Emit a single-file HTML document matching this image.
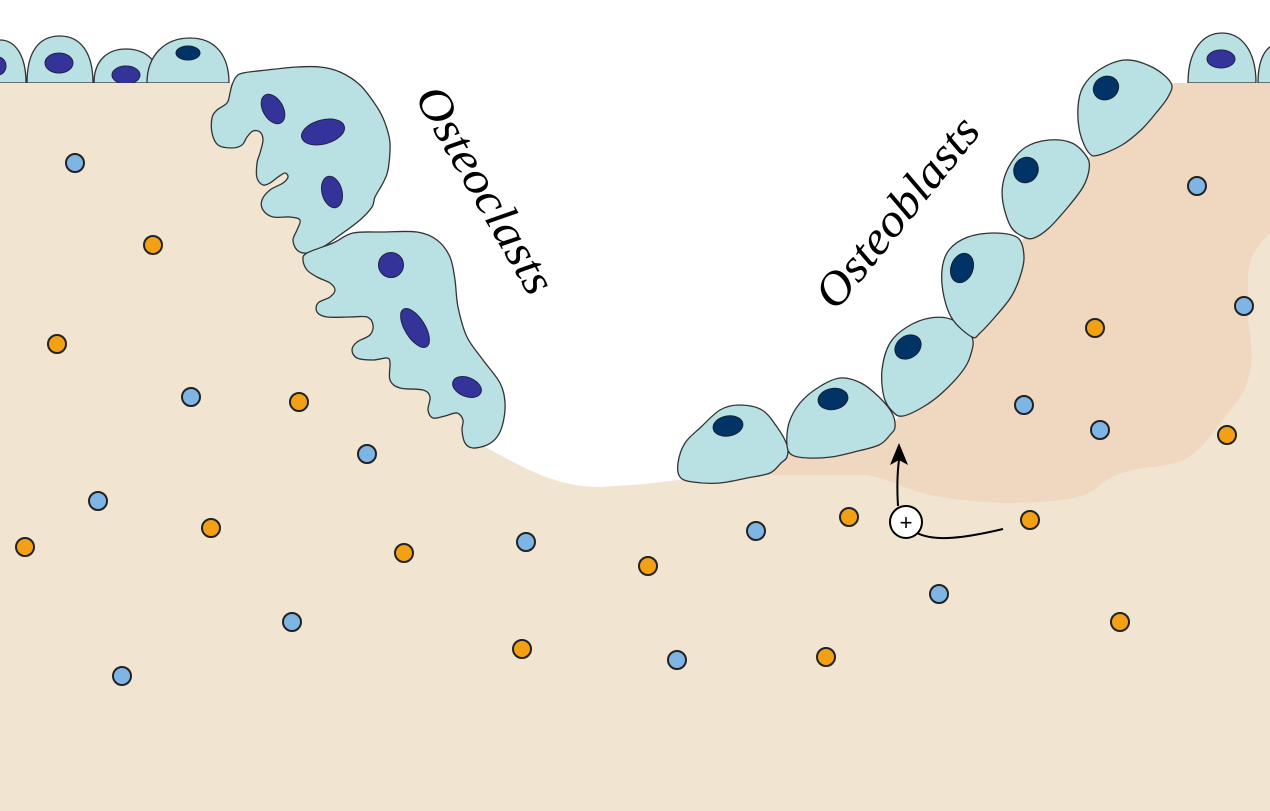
<!DOCTYPE html>
<html>
<head>
<meta charset="utf-8">
<style>
  html, body { margin: 0; padding: 0; background: #ffffff; }
  body { width: 1270px; height: 811px; overflow: hidden; }
  svg { display: block; }
  .cell { fill: #B9E0E3; stroke: #333333; stroke-width: 1.3; stroke-linejoin: round; }
  .np { fill: #333399; stroke: #222244; stroke-width: 1; }
  .nn { fill: #003366; stroke: #112233; stroke-width: 1; }
  .b { fill: #7EB5E5; stroke: #222222; stroke-width: 2; }
  .o { fill: #F2A114; stroke: #222222; stroke-width: 2; }
  .lbl { font-family: "Liberation Serif", serif; font-style: italic; font-size: 47px; fill: #000000; }
</style>
</head>
<body>
<svg id="art" width="1270" height="811" viewBox="0 0 1270 811" xmlns="http://www.w3.org/2000/svg">
  <rect x="0" y="0" width="1270" height="811" fill="#ffffff"/>

  <!-- lining cells top-left -->
  <path class="cell" d="M-40,83 C-40,52 -20,40 0,40 C15,40 26,55 26,83 Z"/>
  <ellipse class="np" cx="-2" cy="66" rx="8" ry="9"/>
  <path class="cell" d="M27,83 C27,50 40,36 60,36 C80,36 93,52 93,83 Z"/>
  <ellipse class="np" cx="59" cy="63" rx="14" ry="10"/>
  <path class="cell" d="M94,83 C94,60 108,49 126,49 C145,49 155,60 158,70 L158,83 Z"/>
  <ellipse class="np" cx="126" cy="75" rx="14" ry="9"/>
  <path class="cell" d="M147,83 C147,55 165,38 190,38 C215,38 229,55 229,83 Z"/>
  <ellipse class="nn" cx="188" cy="53" rx="12" ry="7"/>

  <!-- lining cells top-right -->
  <path class="cell" d="M1188,83 C1188,50 1203,33 1222,33 C1241,33 1256,50 1256,83 Z"/>
  <ellipse class="np" cx="1221" cy="59" rx="14" ry="9"/>
  <path class="cell" d="M1258,83 C1258,55 1268,42 1285,42 C1300,42 1310,55 1310,83 Z"/>

  <!-- bone -->
  <path fill="#F1E5D1" d="M0,83 L232,83 L270,120 L310,200 L318,245 L340,290 L400,340 L450,400 L480,444 C505,458 530,472 555,480 C570,485 585,487 600,487 L645,484 L678,480 L700,478 L787,452 L896,420 L972,339 L1021,242 L1089,157 L1172,83 L1270,83 L1270,811 L0,811 Z"/>

  <!-- osteoid (peach) -->
  <path fill="#EFD7C0" d="M700,478 L787,452 L896,420 L972,339 L1021,242 L1089,157 L1172,83 L1270,83 L1270,233 C1258,245 1250,255 1248,275 L1248,320 C1250,335 1253,350 1251,365 C1249,380 1245,390 1238,400 L1213,433 C1205,443 1195,455 1180,462 C1160,467 1145,467 1133,470 C1120,473 1110,477 1100,485 C1090,495 1075,500 1040,502 L1011,503 C985,503 955,500 930,495 C905,490 890,478 865,475 L771,475 L715,476 Z"/>

  <!-- osteoclast 1 -->
  <polygon class="cell smooth" points="232,85 236,77 243,73 267,70 297,67 320,67 340,72 360,85 377,107 385,123 390,143 388,170 383,183 375,197 372,207 360,220 340,235 323,247 307,253 297,250 293,240 297,230 300,220 290,217 273,217 263,210 262,200 270,190 283,183 288,177 285,173 278,177 270,183 263,185 257,178 257,163 260,153 263,140 260,132 253,131 247,137 242,145 232,148 218,145 212,133 212,118 217,110 227,103 230,93"/>
  <ellipse class="np" cx="273" cy="109" rx="10" ry="16" transform="rotate(-30 273 109)"/>
  <ellipse class="np" cx="323" cy="132" rx="22" ry="12" transform="rotate(-15 323 132)"/>
  <ellipse class="np" cx="332" cy="192" rx="10" ry="16" transform="rotate(-15 332 192)"/>

  <!-- osteoclast 2 -->
  <polygon class="cell smooth" points="307,253 333,243 353,233 383,232 417,232 437,240 450,257 455,280 458,307 467,337 483,360 500,383 505,403 503,423 497,437 487,445 473,448 465,443 462,430 463,420 457,413 445,416 433,418 428,410 430,397 423,390 400,388 390,380 390,363 387,358 373,360 357,358 352,350 357,342 370,335 373,325 367,317 350,317 327,317 317,312 318,303 330,297 335,290 330,283 317,277 307,270 303,260"/>
  <circle class="np" cx="391" cy="265" r="12.5"/>
  <ellipse class="np" cx="415" cy="328" rx="10" ry="22" transform="rotate(-32 415 328)"/>
  <ellipse class="np" cx="467" cy="387" rx="15" ry="9.5" transform="rotate(22 467 387)"/>

  <!-- osteoblasts -->
  <polygon class="cell smooth" points="678,463 685,443 701,427 720,410 739,405 762,410 777,427 787,445 787,457 781,463 770,473 747,478 720,483 693,482 680,477"/>
  <ellipse class="nn" cx="728" cy="426" rx="15" ry="10" transform="rotate(-10 728 426)"/>

  <polygon class="cell smooth" points="787,445 789,423 800,403 819,387 840,378 861,383 879,397 892,413 895,427 890,435 879,445 854,452 831,457 808,458 792,455"/>
  <ellipse class="nn" cx="833" cy="399" rx="15" ry="10.5" transform="rotate(-10 833 399)"/>

  <polygon class="cell smooth" points="884,397 882,370 890,343 907,327 930,318 953,320 972,337 970,357 961,373 942,393 923,407 903,416 893,412"/>
  <ellipse class="nn" cx="908" cy="347" rx="14" ry="11" transform="rotate(-35 908 347)"/>

  <polygon class="cell smooth" points="972,337 953,320 944,297 942,270 949,250 968,237 995,233 1018,238 1024,257 1020,277 1011,297 995,317 980,333"/>
  <ellipse class="nn" cx="962" cy="268" rx="11" ry="15" transform="rotate(20 962 268)"/>

  <polygon class="cell smooth" points="1024,237 1011,227 1003,203 1003,183 1011,163 1026,147 1049,140 1072,143 1087,157 1089,170 1083,187 1068,207 1049,228 1034,238"/>
  <ellipse class="nn" cx="1026" cy="170" rx="12" ry="13" transform="rotate(30 1026 170)"/>

  <polygon class="cell smooth" points="1089,153 1080,133 1078,107 1083,87 1099,70 1125,60 1152,67 1171,83 1168,97 1156,113 1141,130 1122,145 1099,155"/>
  <ellipse class="nn" cx="1106" cy="88" rx="13" ry="11.5" transform="rotate(-30 1106 88)"/>

  <!-- dots: blue -->
  <circle class="b" cx="75" cy="163" r="9"/>
  <circle class="b" cx="191" cy="397" r="9"/>
  <circle class="b" cx="367" cy="454" r="9"/>
  <circle class="b" cx="98" cy="501" r="9"/>
  <circle class="b" cx="526" cy="542" r="9"/>
  <circle class="b" cx="292" cy="622" r="9"/>
  <circle class="b" cx="122" cy="676" r="9"/>
  <circle class="b" cx="677" cy="660" r="9"/>
  <circle class="b" cx="756" cy="531" r="9"/>
  <circle class="b" cx="939" cy="594" r="9"/>
  <circle class="b" cx="1024" cy="405" r="9"/>
  <circle class="b" cx="1100" cy="430" r="9"/>
  <circle class="b" cx="1197" cy="186" r="9"/>
  <circle class="b" cx="1244" cy="306" r="9"/>

  <!-- dots: orange -->
  <circle class="o" cx="153" cy="245" r="9"/>
  <circle class="o" cx="57" cy="344" r="9"/>
  <circle class="o" cx="299" cy="402" r="9"/>
  <circle class="o" cx="211" cy="528" r="9"/>
  <circle class="o" cx="25" cy="547" r="9"/>
  <circle class="o" cx="404" cy="553" r="9"/>
  <circle class="o" cx="648" cy="566" r="9"/>
  <circle class="o" cx="522" cy="649" r="9"/>
  <circle class="o" cx="826" cy="657" r="9"/>
  <circle class="o" cx="849" cy="517" r="9"/>
  <circle class="o" cx="1030" cy="520" r="9"/>
  <circle class="o" cx="1095" cy="328" r="9"/>
  <circle class="o" cx="1227" cy="435" r="9"/>
  <circle class="o" cx="1120" cy="622" r="9"/>

  <!-- arrow from plus -->
  <path d="M898,506 C897,490 897,475 899,460" fill="none" stroke="#000" stroke-width="2"/>
  <polygon points="899,443 908,465 899,460 890,465" fill="#000"/>
  <path d="M917,533 C935,542 965,538 1003,529" fill="none" stroke="#000" stroke-width="2"/>
  <circle cx="906" cy="522" r="16" fill="#ffffff" stroke="#000" stroke-width="2"/>
  <text x="906" y="530" text-anchor="middle" font-family="Liberation Sans, sans-serif" font-size="22" fill="#000">+</text>

  <!-- labels -->
  <text class="lbl" x="0" y="0" textLength="232" lengthAdjust="spacingAndGlyphs" transform="translate(414,97) rotate(60)">Osteoclasts</text>
  <text class="lbl" x="0" y="0" textLength="232" lengthAdjust="spacingAndGlyphs" transform="translate(836,312) rotate(-51)">Osteoblasts</text>
</svg>
<script>
(function () {
  var ns = "http://www.w3.org/2000/svg";
  var polys = document.querySelectorAll("polygon.smooth");
  for (var k = 0; k < polys.length; k++) {
    var pg = polys[k];
    var raw = pg.getAttribute("points").trim().split(/\s+/);
    var p = raw.map(function (s) { var a = s.split(","); return [parseFloat(a[0]), parseFloat(a[1])]; });
    var n = p.length;
    var d = "M" + p[0][0] + "," + p[0][1];
    for (var i = 0; i < n; i++) {
      var p0 = p[(i - 1 + n) % n], p1 = p[i], p2 = p[(i + 1) % n], p3 = p[(i + 2) % n];
      var c1x = p1[0] + (p2[0] - p0[0]) / 6, c1y = p1[1] + (p2[1] - p0[1]) / 6;
      var c2x = p2[0] - (p3[0] - p1[0]) / 6, c2y = p2[1] - (p3[1] - p1[1]) / 6;
      d += " C" + c1x.toFixed(1) + "," + c1y.toFixed(1) + " " + c2x.toFixed(1) + "," + c2y.toFixed(1) + " " + p2[0] + "," + p2[1];
    }
    d += " Z";
    var path = document.createElementNS(ns, "path");
    path.setAttribute("class", "cell");
    path.setAttribute("d", d);
    pg.parentNode.replaceChild(path, pg);
  }
})();
</script>
</body>
</html>
